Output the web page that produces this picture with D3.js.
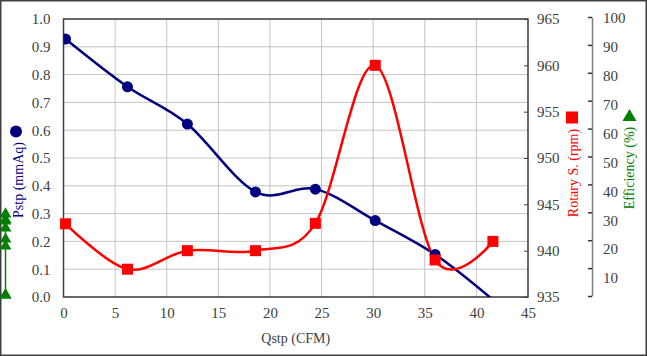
<!DOCTYPE html>
<html><head><meta charset="utf-8">
<script src="https://cdn.jsdelivr.net/npm/d3@7"></script>
<style>
html,body{margin:0;padding:0;background:#fff;}
svg, svg text{font-family:"Liberation Serif","Times New Roman","DejaVu Serif",serif !important;}
</style></head>
<body>
<svg id="chart" width="647" height="356"></svg>
<script>
// ---- data ----
const qstp = [0.2, 6.2, 12.0, 18.6, 24.4, 30.2, 36.0, 41.6];
const pstp = [0.928, 0.756, 0.622, 0.378, 0.388, 0.275, 0.153, -0.01];
const rpm = [942.9, 938.0, 940.0, 940.0, 942.95, 960.0, 939.0, 941.0];
const efficiency = [0, 17.5, 20, 24, 26.5, 29, 27, 0];
const xTicks = [0, 5, 10, 15, 20, 25, 30, 35, 40, 45];
const pTicks = [0, 0.1, 0.2, 0.3, 0.4, 0.5, 0.6, 0.7, 0.8, 0.9, 1.0];
const rpmTicks = [935, 940, 945, 950, 955, 960, 965];
const effTicks = [0, 10, 20, 30, 40, 50, 60, 70, 80, 90, 100];
const effLabels = [10, 20, 30, 40, 50, 60, 70, 80, 90, 100];

// ---- layout ----
const L = 63.5, R = 528, T = 19, B = 297;
const effAxisX = 592, effSeriesX = 5.5;
const FONT = "Liberation Serif, Times New Roman, serif";
const svg = d3.select("#chart");

svg.append("rect").attr("x", 0.75).attr("y", 0.75).attr("width", 645.5).attr("height", 354.5)
  .attr("fill", "#fff").attr("stroke", "#404040").attr("stroke-width", 1.5);

const x = d3.scaleLinear().domain([0, 45]).range([L, R]);
const y = d3.scaleLinear().domain([0, 1]).range([B, T]);
const yR = d3.scaleLinear().domain([935, 965]).range([B, T]);
const yE = d3.scaleLinear().domain([0, 100]).range([296, 17]);
const yELab = d3.scaleLinear().domain([10, 100]).range([278, 18]);

// grid
const grid = svg.append("g");
grid.selectAll("line.h").data(pTicks).join("line")
  .attr("x1", L).attr("x2", R).attr("y1", d => y(d)).attr("y2", d => y(d))
  .attr("stroke", "#c4c4c4").attr("stroke-width", 1);
grid.selectAll("line.v").data(xTicks).join("line")
  .attr("x1", d => x(d)).attr("x2", d => x(d)).attr("y1", T).attr("y2", B)
  .attr("stroke", "#c4c4c4").attr("stroke-width", 1);

function styleText(g) {
  g.attr("font-family", FONT);
  g.selectAll("text").attr("font-size", 15).attr("fill", "#404040").attr("font-family", FONT);
}

// left axis
const gl = svg.append("g").attr("transform", `translate(${L},0)`)
  .call(d3.axisLeft(y).tickValues(pTicks).tickFormat(d3.format(".1f")).tickSize(0).tickPadding(13));
gl.select(".domain").remove();
styleText(gl);

// bottom axis
const gb = svg.append("g").attr("transform", `translate(0,${B})`)
  .call(d3.axisBottom(x).tickValues(xTicks).tickSize(0).tickPadding(10));
gb.select(".domain").remove();
styleText(gb);

// right axis (rpm)
const gr = svg.append("g").attr("transform", `translate(${R},0)`)
  .call(d3.axisLeft(yR).tickValues(rpmTicks).tickFormat(d3.format("d")).tickSize(4).tickPadding(-13));
gr.select(".domain").remove();
gr.selectAll("line").attr("stroke", "#404040");
styleText(gr);
gr.selectAll("text").attr("text-anchor", "start");

// efficiency axis
const ge = svg.append("g").attr("transform", `translate(${effAxisX},0)`)
  .call(d3.axisLeft(yE).tickValues(effTicks).tickFormat("").tickSize(4).tickSizeOuter(0));
ge.select(".domain").attr("stroke", "#808080").attr("stroke-width", 1.5);
ge.selectAll("line").attr("stroke", "#333").attr("stroke-width", 1.5);
const gel = svg.append("g").attr("transform", `translate(${effAxisX},0)`)
  .call(d3.axisRight(yELab).tickValues(effLabels).tickFormat(d3.format("d")).tickSize(0).tickPadding(11));
gel.select(".domain").remove();
styleText(gel);

// plot frame
svg.append("rect").attr("x", L).attr("y", T).attr("width", R - L).attr("height", B - T)
  .attr("fill", "none").attr("stroke", "#404040").attr("stroke-width", 1.5);

// clip
svg.append("clipPath").attr("id", "clip").append("rect")
  .attr("x", L).attr("y", T).attr("width", R - L).attr("height", B - T);

const pts = (xs, ys) => xs.map((d, i) => [d, ys[i]]);
const curve = d3.curveCatmullRom.alpha(0);

// blue series
const blue = "#000080";
const bluePts = pts(qstp, pstp);
svg.append("path").attr("clip-path", "url(#clip)")
  .attr("d", d3.line().x(d => x(d[0])).y(d => y(d[1])).curve(curve)(bluePts))
  .attr("fill", "none").attr("stroke", blue).attr("stroke-width", 2.5);

// red series
const red = "#ff0000";
const redPts = pts(qstp, rpm);
svg.append("path")
  .attr("d", d3.line().x(d => x(d[0])).y(d => yR(d[1])).curve(curve)(redPts))
  .attr("fill", "none").attr("stroke", red).attr("stroke-width", 2.5);

svg.append("g").attr("clip-path", "url(#clip)").selectAll("circle").data(bluePts.filter(d => d[1] >= 0)).join("circle")
  .attr("cx", d => x(d[0])).attr("cy", d => y(d[1])).attr("r", 5.5).attr("fill", blue);

svg.append("g").selectAll("rect").data(redPts).join("rect")
  .attr("x", d => x(d[0]) - 5.5).attr("y", d => yR(d[1]) - 5.5).attr("width", 11).attr("height", 11).attr("fill", red);

// green efficiency series (drawn at left margin)
const green = "#008000";
svg.append("path")
  .attr("d", d3.line().x(() => effSeriesX).y(d => yE(d))(efficiency))
  .attr("fill", "none").attr("stroke", green).attr("stroke-width", 1.5);
const tri = d3.symbol().type(d3.symbolTriangle).size(60);
svg.append("g").selectAll("path").data(efficiency).join("path")
  .attr("transform", d => `translate(${effSeriesX},${yE(d) - 1})`).attr("d", tri).attr("fill", green);

// axis titles & legend markers
svg.append("text").attr("x", x(22.5)).attr("y", 343).attr("text-anchor", "middle")
  .attr("font-family", FONT).attr("font-size", 14).attr("fill", "#404040").text("Qstp (CFM)");

svg.append("text").attr("transform", "translate(18.5,180) rotate(-90)").attr("dy", "0.35em")
  .attr("font-family", FONT).attr("text-anchor", "middle").attr("font-size", 14).attr("fill", blue).text("Pstp (mmAq)");
svg.append("circle").attr("cx", 16).attr("cy", 131.5).attr("r", 6).attr("fill", blue);

svg.append("text").attr("transform", "translate(573,173) rotate(-90)").attr("dy", "0.35em")
  .attr("font-family", FONT).attr("text-anchor", "middle").attr("font-size", 14).attr("fill", red).text("Rotary S. (rpm)");
svg.append("rect").attr("x", 566).attr("y", 111.5).attr("width", 12).attr("height", 12).attr("fill", red);

svg.append("text").attr("transform", "translate(629.5,168) rotate(-90)").attr("dy", "0.35em")
  .attr("font-family", FONT).attr("text-anchor", "middle").attr("font-size", 14).attr("fill", green).text("Efficiency (%)");
svg.append("path").attr("transform", "translate(629.5,117)").attr("d", d3.symbol().type(d3.symbolTriangle).size(85)).attr("fill", green);
</script>
</body></html>
